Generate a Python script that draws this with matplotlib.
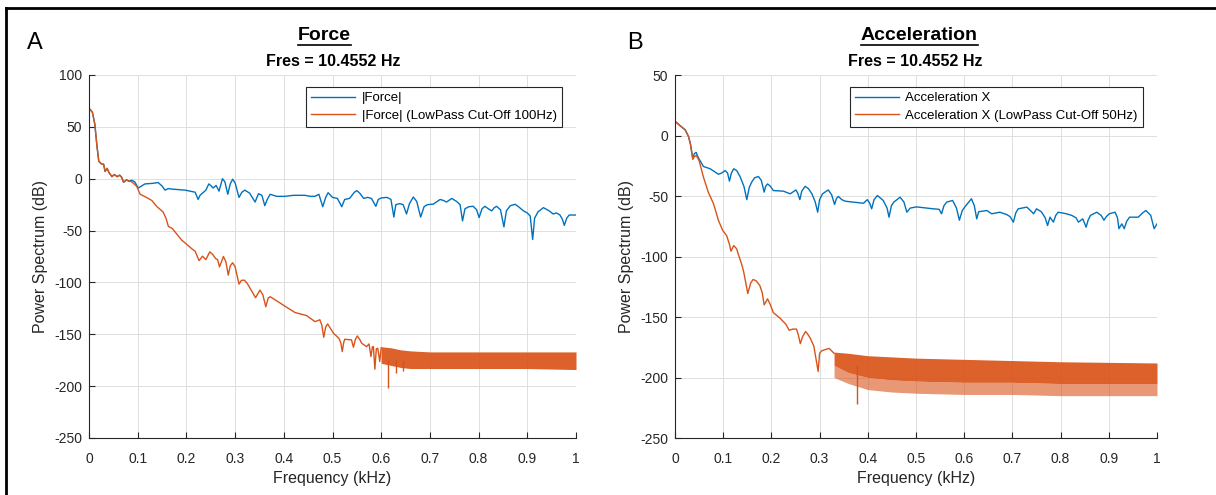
import matplotlib
matplotlib.use("Agg")
import matplotlib.pyplot as plt
from matplotlib.lines import Line2D

plt.rcParams['font.family'] = ['Liberation Sans', 'DejaVu Sans']
plt.rcParams['axes.unicode_minus'] = False

BLUE = '#0072BD'
ORANGE = '#D95319'
DARK = '#262626'

# ---- panel A: Force (frequency in kHz, power in dB) ----
force_f = [0.0, 0.002, 0.007, 0.012, 0.016, 0.020, 0.026, 0.030, 0.033, 0.037, 0.041,
           0.047, 0.052, 0.058, 0.063, 0.067, 0.071, 0.077, 0.082, 0.088, 0.094, 0.101,
           0.108, 0.115, 0.130, 0.142, 0.150, 0.156, 0.163, 0.170, 0.197, 0.218, 0.224,
           0.228, 0.235, 0.240, 0.246, 0.251, 0.255, 0.261, 0.267, 0.271, 0.274, 0.279,
           0.285, 0.290, 0.295, 0.300, 0.308, 0.314, 0.320, 0.330, 0.341, 0.348, 0.355,
           0.361, 0.366, 0.372, 0.385, 0.402, 0.420, 0.443, 0.455, 0.464, 0.472, 0.480,
           0.486, 0.491, 0.500, 0.510, 0.519, 0.525, 0.535, 0.545, 0.550, 0.556, 0.564,
           0.572, 0.580, 0.589, 0.594, 0.600, 0.612, 0.620, 0.626, 0.630, 0.638, 0.645,
           0.652, 0.658, 0.666, 0.673, 0.681, 0.688, 0.695, 0.707, 0.721, 0.728, 0.734,
           0.745, 0.755, 0.762, 0.767, 0.772, 0.780, 0.789, 0.796, 0.801, 0.807, 0.813,
           0.820, 0.827, 0.832, 0.837, 0.845, 0.852, 0.857, 0.865, 0.875, 0.882, 0.892,
           0.900, 0.906, 0.911, 0.915, 0.922, 0.933, 0.945, 0.953, 0.960, 0.967, 0.972,
           0.976, 0.981, 0.986, 1.0]
force_db = [67, 67, 64, 52.5, 33, 17, 14, 14, 7, 10, 6,
            2, 4, 2, 3.4, 1.4, -3.4, -1.1, -2.4, -1.5, -3, -9,
            -7, -5, -4.5, -3.7, -7, -11, -9.5, -10, -11, -13, -20,
            -16, -13, -11, -5, -7, -9, -6.5, -12, -5, 0, -3,
            -15, -5, -0.5, -4, -18, -13, -11, -14, -22.5, -14.5, -16,
            -26, -20, -15, -17, -17, -16, -16, -17, -17, -15, -27,
            -18, -13.5, -18, -19, -27, -20, -19, -13, -11.5, -14, -19,
            -18, -19, -26.6, -20, -18.5, -18, -20, -37, -25, -24, -25,
            -34, -24, -17.6, -22, -37, -27, -25, -24.5, -20, -21, -22.5,
            -19, -22, -25, -40.7, -29, -27, -26.6, -30, -37.5, -29, -26.6,
            -29, -31, -28, -26.6, -30, -46.5, -31, -26, -24.7, -27, -31,
            -33, -36, -58.6, -38, -32, -27.9, -31, -34, -33, -35, -39,
            -45, -38, -35, -35]

force_lp_f = [0.0, 0.002, 0.007, 0.012, 0.016, 0.020, 0.026, 0.030, 0.033, 0.037, 0.041,
              0.047, 0.052, 0.058, 0.063, 0.067, 0.071, 0.077, 0.082, 0.088, 0.098, 0.105,
              0.118, 0.129, 0.139, 0.152, 0.158, 0.163, 0.171, 0.190, 0.211, 0.218, 0.226,
              0.233, 0.240, 0.248, 0.254, 0.260, 0.264, 0.268, 0.276, 0.281, 0.286, 0.290,
              0.295, 0.300, 0.308, 0.313, 0.319, 0.325, 0.331, 0.342, 0.351, 0.357, 0.363,
              0.368, 0.372, 0.385, 0.402, 0.423, 0.447, 0.464, 0.474, 0.478, 0.482, 0.486,
              0.490, 0.502, 0.513, 0.517, 0.520, 0.523, 0.525, 0.539, 0.543, 0.547, 0.551,
              0.556, 0.560, 0.570, 0.575, 0.579, 0.582, 0.584, 0.587, 0.590, 0.593, 0.597,
              0.600]
force_lp_db = [67, 67, 64, 52.5, 33, 17, 14, 14, 7, 10, 6,
               2, 4, 2, 3.4, 1.4, -3.4, -1.1, -2.4, -3, -7.3, -15,
               -18, -21, -26.7, -32, -38, -46, -48, -59, -67.5, -70, -79,
               -74.7, -78, -70.5, -73, -77, -78, -85, -75, -80, -93, -84,
               -81, -85, -101.6, -98, -97.8, -101, -105.8, -114.7, -107.4, -112, -123.4,
               -115, -113.8, -117.6, -122.8, -129, -132, -137.8, -136, -141, -152.9, -143,
               -140, -149, -153.8, -158, -166.7, -158, -154.8, -155.4, -162.5, -155, -151.6,
               -155, -158.7, -161.9, -159.3, -171.5, -162, -162, -183.7, -164, -163.5, -176.3,
               -163]

# dense ripple band of the low-passed force above 0.6 kHz (upper / lower edge)
force_band_f = [0.600, 0.620, 0.640, 0.660, 0.700, 0.800, 0.900, 1.000]
force_band_hi = [-162, -163, -165, -166, -167, -167, -167, -167]
force_band_lo = [-178, -180, -182, -183, -183, -183, -183, -184]
force_spike_f = [0.614, 0.631, 0.645]
force_spike_db = [-202, -187, -185]

# ---- panel B: Acceleration X ----
acc_f = [0.0, 0.010, 0.021, 0.028, 0.032, 0.037, 0.040, 0.044, 0.048, 0.059, 0.073,
         0.090, 0.097, 0.104, 0.109, 0.113, 0.117, 0.122, 0.128, 0.135, 0.143, 0.149,
         0.154, 0.159, 0.165, 0.173, 0.179, 0.185, 0.188, 0.192, 0.198, 0.204, 0.225,
         0.239, 0.251, 0.255, 0.259, 0.263, 0.270, 0.277, 0.284, 0.291, 0.296, 0.300,
         0.306, 0.318, 0.325, 0.331, 0.335, 0.339, 0.346, 0.353, 0.391, 0.399, 0.404,
         0.408, 0.413, 0.420, 0.432, 0.440, 0.444, 0.449, 0.454, 0.467, 0.475, 0.481,
         0.488, 0.501, 0.536, 0.548, 0.553, 0.558, 0.564, 0.576, 0.584, 0.590, 0.596,
         0.602, 0.615, 0.621, 0.626, 0.630, 0.647, 0.657, 0.674, 0.688, 0.695, 0.702,
         0.707, 0.712, 0.730, 0.740, 0.744, 0.750, 0.760, 0.768, 0.773, 0.778, 0.785,
         0.790, 0.795, 0.812, 0.823, 0.832, 0.837, 0.846, 0.853, 0.857, 0.862, 0.875,
         0.884, 0.890, 0.895, 0.901, 0.913, 0.918, 0.921, 0.927, 0.932, 0.937, 0.943,
         0.961, 0.970, 0.977, 0.987, 0.994, 1.0]
acc_db = [11.8, 8.3, 4.7, -0.8, -7, -19.5, -15, -14, -18, -25.6, -27.5,
          -32, -31, -29, -31, -37.7, -31, -27.5, -29, -33.9, -42, -53,
          -43, -38.6, -35, -33.9, -37, -46.8, -42, -40, -42, -45.5, -46,
          -48.2, -45, -48, -53, -46, -42, -44, -48.2, -55, -63.4, -53,
          -48.2, -45, -49, -57, -52, -50.4, -53, -54.3, -56, -53, -56,
          -60.6, -53, -49.6, -53.7, -60, -67.5, -58, -55, -51, -55, -63.4,
          -60, -59, -60.6, -61, -64.7, -58, -55, -53.7, -60, -70, -62,
          -58.7, -52.3, -58, -68.9, -63, -62, -64.7, -63.4, -65.3, -67, -71.6,
          -64, -60.6, -59.2, -63, -64.7, -60.6, -63, -68, -74.4, -67.5, -71.6,
          -66, -63.4, -64.7, -66, -68, -71.6, -68.9, -75.8, -70, -66, -63.4,
          -66, -70, -67, -64.7, -63.4, -68, -77, -73, -77, -71, -67.5,
          -67.5, -64, -62, -66, -77, -73]

acc_lp_f = [0.0, 0.010, 0.021, 0.028, 0.032, 0.037, 0.040, 0.044, 0.050, 0.059, 0.069,
            0.080, 0.090, 0.099, 0.107, 0.113, 0.116, 0.122, 0.128, 0.131, 0.138, 0.142,
            0.147, 0.151, 0.157, 0.162, 0.168, 0.176, 0.181, 0.185, 0.192, 0.198, 0.204,
            0.218, 0.230, 0.237, 0.244, 0.252, 0.256, 0.260, 0.265, 0.271, 0.275, 0.280,
            0.288, 0.294, 0.297, 0.300, 0.304, 0.311, 0.320, 0.330]
acc_lp_db = [11.8, 8.3, 4.7, -0.8, -7, -19.5, -17.4, -16.5, -20.7, -34.4, -46.8,
             -56.5, -70, -78.5, -82.6, -90, -95.6, -91, -93.7, -97.8, -106, -111.7,
             -122, -130.6, -122, -119, -120, -124, -130, -140, -135, -140, -146.4,
             -151, -156, -161, -160, -160, -165, -172, -166, -162, -164, -167,
             -174, -188, -195, -180, -178, -177, -176, -180]

acc_band_f = [0.330, 0.360, 0.400, 0.450, 0.500, 0.600, 0.700, 0.800, 0.900, 1.000]
acc_band_hi = [-179, -180, -182, -183, -184, -185, -186, -187, -187.5, -188]
acc_band_mid = [-190, -196, -200, -202, -203, -204, -204, -205, -205, -205]
acc_band_lo = [-200, -205, -210, -212, -213, -214, -214, -215, -215, -215]
acc_spike_f = [0.378]
acc_spike_db = [-222]

x_ticks = [0, 0.1, 0.2, 0.3, 0.4, 0.5, 0.6, 0.7, 0.8, 0.9, 1]
x_tick_labels = ['0', '0.1', '0.2', '0.3', '0.4', '0.5', '0.6', '0.7', '0.8', '0.9', '1']
force_yticks = [-250, -200, -150, -100, -50, 0, 50, 100]
acc_yticks = [-250, -200, -150, -100, -50, 0, 50]


def style_axes(ax, yticks):
    ax.set_xlim(0, 1)
    ax.set_ylim(yticks[0], yticks[-1])
    ax.set_xticks(x_ticks)
    ax.set_xticklabels(x_tick_labels)
    ax.set_yticks(yticks)
    ax.set_yticklabels([str(v) for v in yticks])
    for s in ['top', 'right']:
        ax.spines[s].set_visible(False)
    for s in ['left', 'bottom']:
        ax.spines[s].set_color(DARK)
        ax.spines[s].set_linewidth(0.8)
    ax.tick_params(direction='in', length=4, width=0.8, colors=DARK,
                   labelsize=10, pad=5)
    ax.tick_params(axis='x', pad=10)
    ax.grid(True, color='#dedede', lw=0.7)
    ax.set_axisbelow(True)
    ax.set_xlabel('Frequency (kHz)', fontsize=11.5, color=DARK, labelpad=4)
    ax.set_ylabel('Power Spectrum (dB)', fontsize=11.5, color=DARK, labelpad=4)


fig = plt.figure(figsize=(12.16, 4.95), dpi=100)
ax1 = fig.add_axes([89 / 1216, 1 - 438 / 495, 487 / 1216, 363 / 495])
ax2 = fig.add_axes([675 / 1216, 1 - 438 / 495, 482 / 1216, 363 / 495])

# Force
ax1.plot(force_f, force_db, color=BLUE, lw=1.0, label='|Force|')
ax1.plot(force_lp_f, force_lp_db, color=ORANGE, lw=1.0,
         label='|Force| (LowPass Cut-Off 100Hz)')
ax1.fill_between(force_band_f, force_band_hi, force_band_lo, color=ORANGE,
                 alpha=0.92, lw=0)
ax1.vlines(force_spike_f, -175, force_spike_db, color=ORANGE, lw=1.0)
style_axes(ax1, force_yticks)

# Acceleration
ax2.plot(acc_f, acc_db, color=BLUE, lw=1.0, label='Acceleration X')
ax2.plot(acc_lp_f, acc_lp_db, color=ORANGE, lw=1.0,
         label='Acceleration X (LowPass Cut-Off 50Hz)')
ax2.fill_between(acc_band_f, acc_band_hi, acc_band_mid, color=ORANGE,
                 alpha=0.92, lw=0)
ax2.fill_between(acc_band_f, acc_band_mid, acc_band_lo, color=ORANGE,
                 alpha=0.6, lw=0)
ax2.vlines(acc_spike_f, -190, acc_spike_db, color=ORANGE, lw=1.0)
style_axes(ax2, acc_yticks)

for ax in (ax1, ax2):
    leg = ax.legend(loc='upper right', bbox_to_anchor=(0.971, 0.967),
                    fontsize=9.5, fancybox=False, framealpha=1,
                    edgecolor=DARK, handlelength=3.3, borderaxespad=0,
                    borderpad=0.4, labelspacing=0.4, handletextpad=0.5)
    leg.get_frame().set_linewidth(0.8)

# panel letters, titles and subtitles
fig.text(35 / 1216, 1 - 43 / 495, 'A', fontsize=17, ha='center', va='center')
fig.text(635 / 1216, 1 - 43 / 495, 'B', fontsize=17, ha='center', va='center')
titles = [
    fig.text(324 / 1216, 1 - 35 / 495, 'Force', fontsize=14, fontweight='bold',
             ha='center', va='center'),
    fig.text(919 / 1216, 1 - 35 / 495, 'Acceleration', fontsize=14,
             fontweight='bold', ha='center', va='center'),
]
fig.text(333 / 1216, 1 - 61 / 495, 'Fres = 10.4552 Hz', fontsize=11.5,
         fontweight='bold', ha='center', va='center')
fig.text(915 / 1216, 1 - 61 / 495, 'Fres = 10.4552 Hz', fontsize=11.5,
         fontweight='bold', ha='center', va='center')

# underline the titles
fig.canvas.draw()
inv = fig.transFigure.inverted()
for t in titles:
    bb = t.get_window_extent()
    (x0, y0), (x1, _) = inv.transform([[bb.x0, bb.y0 - 1], [bb.x1, bb.y0]])
    fig.add_artist(Line2D([x0, x1], [y0, y0], transform=fig.transFigure,
                          color='black', lw=1.2))

# outer frame (top and left edges)
fig.add_artist(Line2D([6 / 1216, 1], [1 - 8 / 495, 1 - 8 / 495],
                      transform=fig.transFigure, color='black', lw=2))
fig.add_artist(Line2D([6 / 1216, 6 / 1216], [0, 1 - 8 / 495],
                      transform=fig.transFigure, color='black', lw=2))

fig.savefig('out.png', dpi=100)
